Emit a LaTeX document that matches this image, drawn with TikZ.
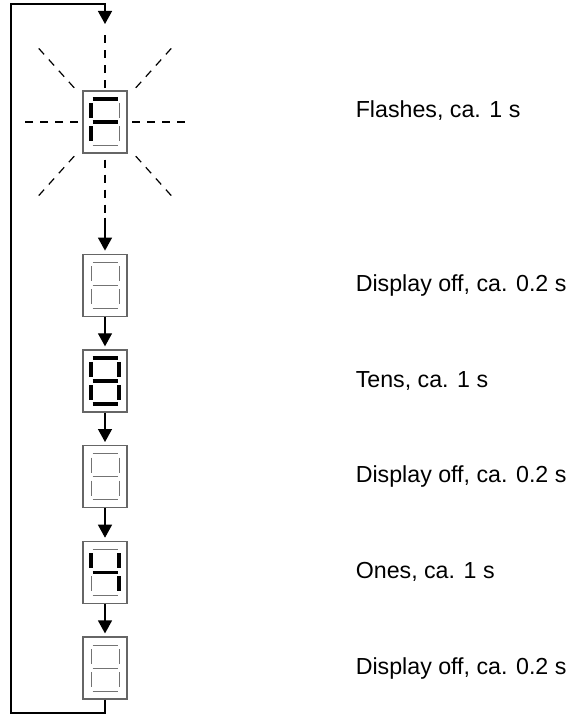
\documentclass[tikz,border=0pt]{standalone}
\usepackage{fontspec}
\setmainfont{Liberation Sans}
\usetikzlibrary{arrows.meta,positioning}

% segment paths of one digit, relative to the display centre (y runs down)
\def\sega{(-12.5,-23)--(12.5,-23)}
\def\segb{(14,-19)--(14,-4)}
\def\segc{(14,4)--(14,19)}
\def\segd{(-12.5,23)--(12.5,23)}
\def\sege{(-14,4)--(-14,19)}
\def\segf{(-14,-19)--(-14,-4)}
\def\segg{(-12.5,0)--(12.5,0)}
\newcommand{\segsdraw}[3]{%
  \foreach \s in {#3}{%
    \edef\segpath{\csname seg\s\endcsname}%
    \draw[#2,shift={(#1.center)}] \segpath;}}

\begin{document}
\begin{tikzpicture}[
  x=1pt,y=-1pt,
  node distance=32.5pt,
  every node/.style={font=\fontsize{23.2}{27}\selectfont},
  disp/.style={draw=black!60,line width=1.2pt,minimum width=44pt,minimum height=62pt,inner sep=0pt},
  txt/.style={anchor=west,inner sep=0pt},
  segoff/.style={draw=black!55,line width=0.8pt},
  segon/.style={draw=black,line width=3.5pt},
  ray/.style={line width=1.2pt,dash pattern=on 8pt off 7pt},
  arr/.style={-{Triangle[length=13pt,width=14pt]},line width=1.3pt,shorten >=3pt}
]
\useasboundingbox (0,0) rectangle (571,717);

\node[disp] (d1) at (105,122) {};
\node[disp,below=100pt of d1] (d2) {};
\node[disp,below=of d2] (d3) {};
\node[disp,below=of d3] (d4) {};
\node[disp,below=of d4] (d5) {};
\node[disp,below=of d5] (d6) {};

\node[txt,right=228pt of d1,yshift=11pt] (t1) {Flashes, ca. 1 s};
\node[txt,right=228pt of d2] (t2) {Display off, ca. 0.2 s};
\node[txt,right=228pt of d3] (t3) {Tens, ca. 1 s};
\node[txt,right=228pt of d4] (t4) {Display off, ca. 0.2 s};
\node[txt,right=228pt of d5] (t5) {Ones, ca. 1 s};
\node[txt,right=228pt of d6] (t6) {Display off, ca. 0.2 s};

% segments
\foreach \d in {d1,d2,d3,d4,d5,d6}{\segsdraw{\d}{segoff}{a,b,c,d,e,f,g}}
\segsdraw{d1}{segon}{a,e,f,g}
\segsdraw{d3}{segon}{a,b,c,d,e,f,g}
\segsdraw{d5}{segon}{b,c,f,g}

% flash rays
\foreach \a/\r/\l in {0/27/55,180/27/55,48/46/54,132/46/54,228/46/54,312/46/54,270/34/55}
  \draw[ray] (d1.center) ++(\a:\r) -- ++(\a:\l);
\draw[ray] ([yshift=-6pt]d1.south) -- ++(0,58) coordinate (fl);

% connectors
\coordinate (lb) at (11,713);
\coordinate (lt) at (11,4);
\coordinate (tip) at (105,24);
\draw[arr] (fl) -- (d2);
\draw[arr] (d2) -- (d3);
\draw[arr] (d3) -- (d4);
\draw[arr] (d4) -- (d5);
\draw[arr] (d5) -- (d6);
\draw[arr,shorten >=0pt] (d6.south) |- (lb) -- (lt) -| (tip);
\end{tikzpicture}
\end{document}
